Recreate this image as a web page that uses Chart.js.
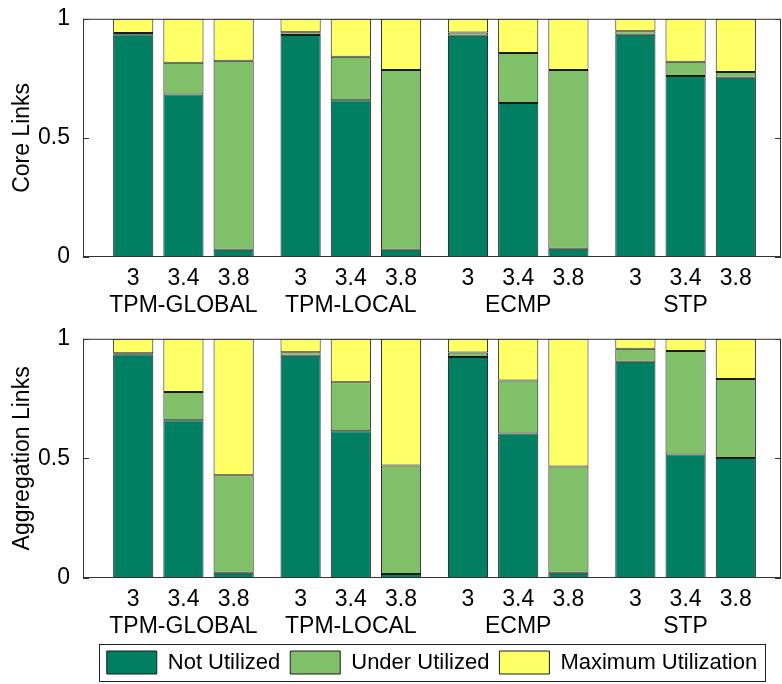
<!DOCTYPE html>
<html>
<head>
<meta charset="utf-8">
<script src="https://cdn.jsdelivr.net/npm/chart.js@4.4.0/dist/chart.umd.min.js"></script>
<style>
  body { margin: 0; background: #fff; }
  #wrap { position: relative; width: 782px; height: 684px; }
  .panel { position: absolute; left: 0; width: 782px; }
  #top { top: 0; height: 320px; }
  #bottom { top: 320px; height: 364px; }
</style>
</head>
<body>
<div id="wrap">
  <div class="panel" id="top"><canvas id="coreChart"></canvas></div>
  <div class="panel" id="bottom"><canvas id="aggChart"></canvas></div>
</div>
<script>
// categories
const groups = ['TPM-GLOBAL', 'TPM-LOCAL', 'ECMP', 'STP'];
const rates = ['3', '3.4', '3.8'];
const yTicks = [0, 0.5, 1];

// Core links (fractions, order: group x rate)
const coreNot   = [0.935, 0.682, 0.030, 0.932, 0.658, 0.030, 0.929, 0.647, 0.035, 0.933, 0.760, 0.753];
const coreUnder = [0.005, 0.134, 0.794, 0.012, 0.183, 0.755, 0.014, 0.209, 0.750, 0.015, 0.060, 0.024];
const coreMax   = [0.060, 0.184, 0.176, 0.056, 0.159, 0.215, 0.057, 0.144, 0.215, 0.052, 0.180, 0.223];

// Aggregation links
const aggNot   = [0.935, 0.659, 0.022, 0.929, 0.613, 0.017, 0.924, 0.604, 0.022, 0.904, 0.516, 0.502];
const aggUnder = [0.005, 0.119, 0.408, 0.015, 0.205, 0.453, 0.019, 0.222, 0.444, 0.054, 0.433, 0.330];
const aggMax   = [0.060, 0.222, 0.570, 0.056, 0.182, 0.530, 0.057, 0.174, 0.534, 0.042, 0.051, 0.168];

const seriesNames = ['Not Utilized', 'Under Utilized', 'Maximum Utilization'];
const colors = ['#007f63', '#80c068', '#ffff66'];

// bar positions: 3 bars per group, groups spaced a bit wider
const GROUP_STEP = 10 / 3;
const xPos = [];
const xLabels = [];
groups.forEach((g, gi) => {
  rates.forEach((r, ri) => {
    xPos.push(gi * GROUP_STEP + ri + 1);
    xLabels.push(ri === 1 ? [r, g] : r);
  });
});

Chart.defaults.font.family = '"Liberation Sans", Arial, sans-serif';
Chart.defaults.font.size = 22;
Chart.defaults.color = '#000';

// matlab-like box with inward ticks
const frameTicks = {
  id: 'frameTicks',
  afterDatasetsDraw(chart) {
    const { ctx, chartArea: a, scales: { y } } = chart;
    ctx.save();
    ctx.strokeStyle = '#333';
    ctx.lineWidth = 1;
    ctx.strokeRect(a.left + 0.5, a.top + 0.5, a.right - a.left - 1, a.bottom - a.top - 1);
    y.ticks.forEach(t => {
      const py = Math.round(y.getPixelForValue(t.value)) + 0.5;
      ctx.beginPath();
      ctx.moveTo(a.left, py); ctx.lineTo(a.left + 6, py);
      ctx.moveTo(a.right, py); ctx.lineTo(a.right - 6, py);
      ctx.stroke();
    });
    ctx.restore();
  }
};

// border around the legend
const legendBox = {
  id: 'legendBox',
  afterDraw(chart) {
    const lg = chart.legend;
    if (!lg || !lg.options.display || !lg.legendHitBoxes.length) return;
    const hb = lg.legendHitBoxes;
    const first = hb[0], last = hb[hb.length - 1];
    const ctx = chart.ctx;
    ctx.save();
    ctx.strokeStyle = '#222';
    ctx.lineWidth = 1;
    const x0 = Math.round(first.left - 8) + 0.5;
    const x1 = Math.round(last.left + last.width + 8) + 0.5;
    const y0 = Math.round(first.top - 7) + 0.5;
    const y1 = Math.round(first.top + first.height + 7) + 0.5;
    ctx.strokeRect(x0, y0, x1 - x0, y1 - y0);
    ctx.restore();
  }
};

function makeChart(id, title, vals, showLegend) {
  const datasets = vals.map((arr, k) => ({
    label: seriesNames[k],
    data: arr.map((v, i) => ({ x: xPos[i], y: v })),
    backgroundColor: colors[k],
    borderColor: '#1a1a1a',
    borderWidth: 1,
    borderSkipped: false,
    barPercentage: 0.8,
    categoryPercentage: 1.0
  }));

  return new Chart(document.getElementById(id), {
    type: 'bar',
    data: { datasets: datasets },
    options: {
      responsive: true,
      maintainAspectRatio: false,
      animation: false,
      layout: { padding: { top: 18, right: 1, left: 0, bottom: 0 } },
      scales: {
        x: {
          type: 'linear',
          stacked: true,
          offset: false,
          min: 0,
          max: 13.9,
          afterBuildTicks: s => { s.ticks = xPos.map(v => ({ value: v })); },
          afterFit: s => { s.height = 63; },
          ticks: {
            autoSkip: false,
            maxRotation: 0,
            padding: 0,
            font: { size: 23, lineHeight: 1.17 },
            callback: (v, i) => xLabels[i]
          },
          grid: { display: false },
          border: { display: false }
        },
        y: {
          stacked: true,
          min: 0,
          max: 1,
          afterBuildTicks: s => { s.ticks = yTicks.map(v => ({ value: v })); },
          afterFit: s => { s.width = 83; },
          ticks: { padding: 5, font: { size: 23 }, callback: v => String(v) },
          grid: { display: false },
          border: { display: false },
          title: {
            display: true,
            text: title,
            font: { size: 23 },
            padding: { top: 9, bottom: 0 }
          }
        }
      },
      plugins: {
        legend: {
          display: showLegend,
          position: 'bottom',
          fullSize: false,
          labels: {
            boxWidth: 50,
            boxHeight: 23,
            padding: 10,
            font: { size: 22 },
            color: '#000'
          }
        },
        tooltip: { enabled: false }
      }
    },
    plugins: [frameTicks, legendBox]
  });
}

makeChart('coreChart', 'Core Links', [coreNot, coreUnder, coreMax], false);
makeChart('aggChart', 'Aggregation Links', [aggNot, aggUnder, aggMax], true);
</script>
</body>
</html>
